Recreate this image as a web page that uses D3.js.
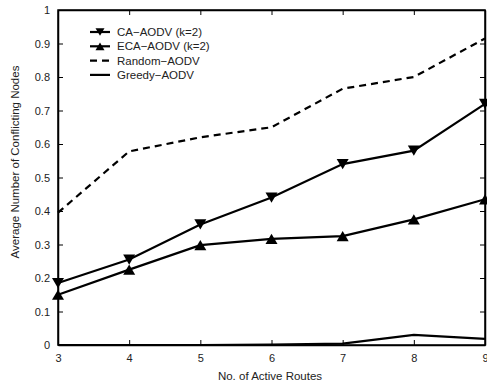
<!DOCTYPE html>
<html>
<head>
<meta charset="utf-8">
<script src="https://cdn.jsdelivr.net/npm/d3@7"></script>
<style>
  body { margin: 0; background: #fff; }
  text { font-family: "Liberation Sans", Arial, sans-serif; fill: #222; }
</style>
</head>
<body>
<svg id="chart" width="487" height="386"></svg>
<script>
// No. of active routes vs conflicting nodes
var routes = [3, 4, 5, 6, 7, 8, 9];
var caAodv = [0.185, 0.255, 0.36, 0.44, 0.54, 0.58, 0.72];
var ecaAodv = [0.15, 0.225, 0.298, 0.317, 0.325, 0.375, 0.435];
var randomAodv = [0.395, 0.578, 0.62, 0.65, 0.765, 0.80, 0.915];
var greedyAodv = [0, 0, 0, 0.001, 0.004, 0.03, 0.018];
var yTicks = [0, 0.1, 0.2, 0.3, 0.4, 0.5, 0.6, 0.7, 0.8, 0.9, 1];
var legendNames = ["CA\u2212AODV (k=2)", "ECA\u2212AODV (k=2)", "Random\u2212AODV", "Greedy\u2212AODV"];

var margin = {top: 10, right: 2, bottom: 41, left: 58};
var width = 487 - margin.left - margin.right,
    height = 386 - margin.top - margin.bottom;

var svg = d3.select("#chart");
var g = svg.append("g")
    .attr("transform", "translate(" + margin.left + "," + margin.top + ")");

var x = d3.scaleLinear().domain([3, 9]).range([0, width]);
var y = d3.scaleLinear().domain([0, 1]).range([height, 0]);

// axes, ticks pointing inward, on all four sides
var tickFmt = function(d) { return d === 0 || d === 1 ? d : d3.format(".1f")(d); };

g.append("g")
    .attr("transform", "translate(0," + height + ")")
    .call(d3.axisBottom(x).tickValues(routes).tickSizeInner(-5).tickSizeOuter(0).tickPadding(9).tickFormat(d3.format("d")));
g.append("g")
    .call(d3.axisTop(x).tickValues(routes).tickSizeInner(-5).tickSizeOuter(0).tickFormat(""));
g.append("g")
    .call(d3.axisLeft(y).tickValues(yTicks).tickSizeInner(-5).tickSizeOuter(0).tickPadding(8).tickFormat(tickFmt));
g.append("g")
    .attr("transform", "translate(" + width + ",0)")
    .call(d3.axisRight(y).tickValues(yTicks).tickSizeInner(-5).tickSizeOuter(0).tickFormat(""));

g.selectAll(".domain").attr("stroke", "#000").attr("stroke-width", 1.5);
g.selectAll(".tick line").attr("stroke", "#000");
g.selectAll(".tick text").style("font-size", "11px").attr("fill", "#222");

g.append("rect")
    .attr("width", width).attr("height", height)
    .attr("fill", "none").attr("stroke", "#000").attr("stroke-width", 1.5);

// axis labels
svg.append("text")
    .attr("x", 270)
    .attr("y", 380)
    .attr("text-anchor", "middle")
    .style("font-size", "11.5px")
    .text("No. of Active Routes");

svg.append("text")
    .attr("transform", "translate(19,162) rotate(-90)")
    .attr("text-anchor", "middle")
    .style("font-size", "11.5px")
    .text("Average Number of Conflicting Nodes");

// lines
var line = d3.line()
    .x(function(d, i) { return x(routes[i]); })
    .y(function(d) { return y(d); });

var series = [
    {values: caAodv, dash: null, marker: "down"},
    {values: ecaAodv, dash: null, marker: "up"},
    {values: randomAodv, dash: "7,5", marker: null},
    {values: greedyAodv, dash: null, marker: null}
];

var tri = function(dir) {
    var s = 6;
    return dir === "down"
        ? "M" + (-s) + "," + (-s * 0.85) + "L" + s + "," + (-s * 0.85) + "L0," + (s * 0.85) + "Z"
        : "M" + (-s) + "," + (s * 0.85) + "L" + s + "," + (s * 0.85) + "L0," + (-s * 0.85) + "Z";
};

series.forEach(function(s) {
    g.append("path")
        .datum(s.values)
        .attr("d", line)
        .attr("fill", "none")
        .attr("stroke", "#000")
        .attr("stroke-width", 2.2)
        .attr("stroke-dasharray", s.dash);
    if (s.marker) {
        g.selectAll(null)
            .data(s.values)
            .enter().append("path")
            .attr("transform", function(d, i) { return "translate(" + x(routes[i]) + "," + y(d) + ")"; })
            .attr("d", tri(s.marker))
            .attr("fill", "#000");
    }
});

// legend
var legend = g.append("g").attr("transform", "translate(32,22)");
legendNames.forEach(function(name, i) {
    var row = legend.append("g").attr("transform", "translate(0," + (i * 14.3) + ")");
    row.append("line")
        .attr("x1", 0).attr("x2", 20).attr("y1", 0).attr("y2", 0)
        .attr("stroke", "#000").attr("stroke-width", 2.2)
        .attr("stroke-dasharray", series[i].dash);
    if (series[i].marker) {
        row.append("path")
            .attr("transform", "translate(10,0) scale(0.75)")
            .attr("d", tri(series[i].marker))
            .attr("fill", "#000");
    }
    row.append("text")
        .attr("x", 27).attr("y", 4)
        .style("font-size", "11.5px")
        .text(name);
});
</script>
</body>
</html>
